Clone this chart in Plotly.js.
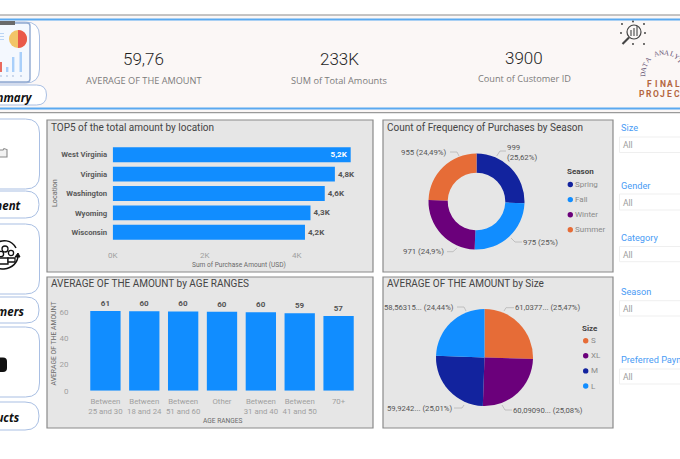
<!DOCTYPE html>
<html><head><meta charset="utf-8">
<script src="https://cdn.plot.ly/plotly-3.0.1.min.js"></script>
<style>html,body{margin:0;padding:0;background:#fff;overflow:hidden}#c{width:680px;height:459px}</style>
</head><body><div id="c"></div>
<script>
// ---- data ----
const locations = ["West Virginia","Virginia","Washington","Wyoming","Wisconsin"];
const locationAmounts = [5174,4830,4610,4300,4180];
const locationLabels = ["5,2K","4,8K","4,6K","4,3K","4,2K"];
const seasons = ["Spring","Fall","Winter","Summer"];
const seasonCounts = [999,975,971,955];
const ageRanges = ["Between<br>25 and 30","Between<br>18 and 24","Between<br>51 and 60","Other","Between<br>31 and 40","Between<br>41 and 50","70+"];
const ageAverages = [60.6,60.3,60.2,60.0,59.6,58.8,56.8];
const sizes = ["S","XL","M","L"];
const sizeAverages = [61.0377,60.0909,59.9242,58.5631];
const sizeLabels = ["61,0377... (25,47%)","60,09090... (25,08%)","59,9242... (25,01%)","58,56315... (24,44%)"];
const kpiValues = ["59,76","233K","3900"];
const kpiNames = ["AVERAGE OF THE AMOUNT","SUM of Total Amounts","Count of Customer ID"];
const slicers = ["Size","Gender","Category","Season","Preferred Payment"];
const navNames = ["Summary","Payment","Customers","Products"];

// ---- palette ----
const BLUE="#118DFF",NAVY="#12239E",PURPLE="#6B007B",ORANGE="#E66C37";
const seasonColors=[NAVY,BLUE,PURPLE,ORANGE];
const sizeColors=[ORANGE,PURPLE,NAVY,BLUE];
const W=680,H=459;
const fx=p=>p/W, fy=p=>1-p/H;
const FONT="Roboto, sans-serif", UI="'Open Sans', sans-serif";

const shapes=[],ann=[];
const rect=(x0,y0,x1,y1,fill,line,lw,layer)=>shapes.push({type:"rect",xref:"paper",yref:"paper",x0:fx(x0),x1:fx(x1),y0:fy(y0),y1:fy(y1),fillcolor:fill||"rgba(0,0,0,0)",line:{color:line||"rgba(0,0,0,0)",width:lw||0},layer:layer||"below"});
const circ=(cx,cy,r,fill,line,lw,layer)=>shapes.push({type:"circle",xref:"paper",yref:"paper",x0:fx(cx-r),x1:fx(cx+r),y0:fy(cy+r),y1:fy(cy-r),fillcolor:fill||"rgba(0,0,0,0)",line:{color:line||"rgba(0,0,0,0)",width:lw||0},layer:layer||"below"});
const path=(d,fill,line,lw,layer)=>{
  const s=d.replace(/(-?[\d.]+) (-?[\d.]+)/g,(m,a,b)=>fx(+a)+" "+fy(+b));
  shapes.push({type:"path",xref:"paper",yref:"paper",path:s,fillcolor:fill||"rgba(0,0,0,0)",line:{color:line||"rgba(0,0,0,0)",width:lw||0},layer:layer||"below"});
};
const poly=(pts,line,lw)=>path("M"+pts.map(p=>p.join(" ")).join(" L"),null,line,lw,"above");
const rr=(x0,y0,x1,y1,r)=>`M${x0+r} ${y0} L${x1-r} ${y0} Q${x1} ${y0} ${x1} ${y0+r} L${x1} ${y1-r} Q${x1} ${y1} ${x1-r} ${y1} L${x0+r} ${y1} Q${x0} ${y1} ${x0} ${y1-r} L${x0} ${y0+r} Q${x0} ${y0} ${x0+r} ${y0} Z`;
const txt=(x,y,t,size,color,anchor,o)=>ann.push(Object.assign({xref:"paper",yref:"paper",x:fx(x),y:fy(y),text:t,showarrow:false,xanchor:anchor||"left",yanchor:"middle",font:{family:FONT,size:size,color:color},borderpad:0,borderwidth:0},o||{}));

// header band
rect(-2,15,682,113,"#FBF7F6");
rect(-2,14.4,682,15.4,"#8c8c8c");
rect(-2,18.4,682,20.4,"#5AA9F0");
rect(-2,107.4,682,109.4,"#5AA9F0");
rect(-2,112,682,113.2,"#9a9a9a");
const kx=[143.5,339,524],ky=[59,59,58],kl=[80,80,78];
kpiValues.forEach((v,i)=>{txt(kx[i],ky[i],v,17,"#1f1f1f","center",{font:{family:FONT,size:17,color:"#1f1f1f",weight:300}});txt(kx[i],kl[i],kpiNames[i],9.2,"#7b7b7b","center",{font:{family:UI,size:9.2,color:"#7b7b7b"}});});

// nav cards
const NAVC="#A9BFE3";
[[22,83],[119,189],[224,294],[327,397]].forEach(c=>path(rr(-30,c[0],39.5,c[1],14),"#fff",NAVC,1));
[[85,105,46.5],[191,218,39],[297,323,39],[402,430,39]].forEach(c=>path(rr(-30,c[0],c[2],c[1],(c[1]-c[0])/2),"#fff",NAVC,1));
const navPos=[[33,97],[21,205],[25,311],[20,417]];
navNames.forEach((n,i)=>txt(navPos[i][0],navPos[i][1],"<b><i>"+n+"</i></b>",11.5,"#111","right",{font:{family:UI,size:11.5,color:"#111"}}));

// summary icon
path(rr(-12,23,30,82,3),"#F4F8FE","#8FA8D0",1.4);
rect(-4,21,15,25,"#6a6a6a");
circ(18,39,9,"#F2C568");
path("M18 30 C30 30 30 48 18 48 Z","#EA5A4A");
rect(0,62,2,72,"#EA6A5E");
rect(6,67,8.4,72,"#A9CFFA");rect(12,57,14.4,72,"#A9CFFA");rect(19.5,52,22,72,"#A9CFFA");
[1,7,13,21].forEach(x=>circ(x,76,.9,"#B9C9E3"));
[33,36,39].forEach(y=>rect(0,y,4,y+1,"#BBD5F5"));
// payment icon
path("M-2 150 L3 150 L4 148.6 L7 149.6 L7 157 L-2 157 Z","#f2f2f2","#8a8a8a",1.1);
// customers icon
path("M-6 245 C2 238 12 240 16 248 M18 255 C18 263 12 268 4 269 C-2 269 -6 267 -9 264","#fff".length?null:null,"#111",1.5);
path("M15 257 L18 253 L20 257 Z","#111","#111",1);
circ(5,249,3,"#fff","#111",1.3);circ(11,253,2.6,"#fff","#111",1.3);circ(1,254,2.6,"#fff","#111",1.3);
path("M-3 264 L-3 258 L8 258 L8 264 Z","#fff","#111",1.3);
path("M8 258 L15 258 L15 262 L8 262 Z","#fff","#111",1.3);
// products icon
path(rr(-6,357.5,7,372,4),"#111");

// panels
[[47,120,373,272],[383,120,613,272],[47,277,373,428],[383,277,613,428]].forEach(p=>rect(p[0],p[1],p[2],p[3],"#E6E6E6","#8A8A8A",1.2));
const titles=[[50.5,127,"TOP5 of the total amount by location"],[386.5,127,"Count of Frequency of Purchases by Season"],[50.5,283.5,"AVERAGE OF THE AMOUNT by AGE RANGES"],[386.5,283.5,"AVERAGE OF THE AMOUNT by Size"]];
titles.forEach(t=>txt(t[0],t[1],t[2],10,"#444","left"));

// axis titles
const AX="#6a6a6a";
txt(239,264.7,"Sum of Purchase Amount (USD)",6.6,AX,"center");
txt(54,193,"Location",7.2,AX,"center",{textangle:-90});
txt(222,421,"AGE RANGES",6.6,AX,"center");
txt(53.5,344,"AVERAGE OF THE AMOUNT",6.8,AX,"center",{textangle:-90});

// donut labels + leaders
const LBL="#555",LS=7.8;
txt(507,147,"999",LS,LBL);txt(507,157,"(25,62%)",LS,LBL);
txt(447,152,"955 (24,49%)",LS,LBL,"right");
txt(523,242,"975 (25%)",LS,LBL);
txt(444,251.7,"971 (24,9%)",LS,LBL,"right");
const LEAD="#b5b5b5";
poly([[496.7,156],[500,151],[506,151]],LEAD,.8);
poly([[450,152],[457,152],[459,156]],LEAD,.8);
poly([[511,238],[515,242],[522,242]],LEAD,.8);
poly([[447,251.7],[453,251.7],[457,248]],LEAD,.8);
// legend season
txt(566.7,171.7,"<b>Season</b>",8,"#444");
seasons.forEach((s,i)=>{const y=184.5+i*15.1;circ(570.3,y,2.7,seasonColors[i],null,0,"above");txt(575,y,s,8,"#8a8a8a");});

// pie labels + leaders
txt(515,307.7,sizeLabels[0],7.7,LBL);
txt(513,410,sizeLabels[1],7.7,LBL);
txt(452,408.7,sizeLabels[2],7.7,LBL,"right");
txt(454,307,sizeLabels[3],7.7,LBL,"right");
poly([[504,311],[506,307.7],[514,307.7]],LEAD,.8);
poly([[502,405],[505,410],[512,410]],LEAD,.8);
poly([[454,408],[462,408],[464,405]],LEAD,.8);
poly([[457,307],[464,307],[466,311]],LEAD,.8);
txt(582,328.7,"<b>Size</b>",8,"#444");
sizes.forEach((s,i)=>{const y=340.7+i*15.1;circ(585.7,y,2.7,sizeColors[i],null,0,"above");txt(591,y,s,8,"#8a8a8a");});

// slicers
const sl=[[128,137,152.5],[185.7,194,210],[237,246.5,261.7],[291.7,300.7,316],[359.5,369,384]];
slicers.forEach((s,i)=>{const c=sl[i];txt(621,c[0],s,9.2,"#4A9CF5");rect(619.5,c[1],690,c[2],"#fff","#EFEFEF",1);txt(623,(c[1]+c[2])/2+.5,"All",8.5,"#9c9c9c");});

// logo + search glyph
"DATA ANALYTICS".split("").forEach((ch,i)=>{const d=-92+i*14.2,a=d*Math.PI/180;txt(664+21*Math.sin(a),74-21*Math.cos(a),ch,7,"#5E4E70","center",{textangle:d,font:{family:"'Liberation Serif',serif",size:7,color:"#5E4E70"}});});
"FINAL".split("").forEach((ch,i)=>txt(649+i*7.1,84,"<b>"+ch+"</b>",8.5,"#B5673F","center"));
"PROJECT".split("").forEach((ch,i)=>txt(641.5+i*7.1,94,"<b>"+ch+"</b>",8.5,"#B5673F","center"));
circ(634,32,7,"rgba(0,0,0,0)","#444",1.2);
poly([[629,37.5],[622.5,44]],"#444",2.2);
[[622,24],[644,24],[633,21.5],[621,33],[645,33],[644,44],[633,44]].forEach(p=>circ(p[0],p[1],.9,"#333"));
[[631,36,30],[634,36,28],[637,36,26]].forEach(b=>poly([[b[0],b[1]],[b[0],b[2]]],"#555",1.2));

// ---- traces ----
const traces=[
 {type:"bar",orientation:"h",y:locations,x:locationAmounts,text:locationLabels,xaxis:"x",yaxis:"y",
  marker:{color:BLUE},width:.77,textposition:["inside","outside","outside","outside","outside"],insidetextanchor:"end",
  textfont:{family:FONT,size:8,color:["#fff","#555","#555","#555","#555"],weight:700},constraintext:"none",cliponaxis:false,hoverinfo:"skip"},
 {type:"pie",labels:seasons,values:seasonCounts,hole:.6,sort:false,direction:"clockwise",rotation:0,
  marker:{colors:seasonColors},textinfo:"none",showlegend:false,hoverinfo:"skip",
  domain:{x:[fx(476.5-48),fx(476.5+48)],y:[fy(201.5+48),fy(201.5-48)]}},
 {type:"bar",x:ageRanges,y:ageAverages,xaxis:"x2",yaxis:"y2",marker:{color:BLUE},width:.78,
  texttemplate:"%{y:.0f}",textposition:"outside",textfont:{family:FONT,size:8,color:"#555",weight:700},cliponaxis:false,hoverinfo:"skip"},
 {type:"pie",labels:sizes,values:sizeAverages,sort:false,direction:"clockwise",rotation:0,
  marker:{colors:sizeColors},textinfo:"none",showlegend:false,hoverinfo:"skip",
  domain:{x:[fx(484.5-48.5),fx(484.5+48.5)],y:[fy(357.5+48.5),fy(357.5-48.5)]}}
];
const layout={width:W,height:H,margin:{l:0,r:0,t:0,b:0},paper_bgcolor:"#fff",plot_bgcolor:"rgba(0,0,0,0)",showlegend:false,bargap:.23,
 shapes:shapes,annotations:ann,
 xaxis:{domain:[fx(112.7),fx(372)],range:[0,259.3/46*1000],tickmode:"array",tickvals:[0,2000,4000],ticktext:["0K","2K","4K"],anchor:"y",
   showgrid:false,zeroline:false,showline:false,ticks:"outside",ticklen:5,tickcolor:"rgba(0,0,0,0)",tickfont:{family:FONT,size:8,color:"#a0a0a0"},fixedrange:true},
 yaxis:{domain:[fy(242),fy(145)],autorange:"reversed",anchor:"x",showgrid:false,zeroline:false,showline:false,ticks:"outside",ticklen:3,tickcolor:"rgba(0,0,0,0)",
   tickfont:{family:FONT,size:7.7,color:"#5a5a5a",weight:700},fixedrange:true},
 xaxis2:{domain:[fx(86),fx(358)],anchor:"y2",showgrid:false,zeroline:false,showline:false,ticks:"outside",ticklen:3,tickcolor:"rgba(0,0,0,0)",tickangle:0,
   tickfont:{family:FONT,size:7.8,color:"#a0a0a0"},fixedrange:true},
 yaxis2:{domain:[fy(390.7),fy(300)],range:[0,90.7/1.3167],anchor:"x2",tickvals:[0,20,40,60],showgrid:false,zeroline:false,showline:false,ticks:"outside",ticklen:15,tickcolor:"rgba(0,0,0,0)",
   tickfont:{family:FONT,size:8,color:"#a0a0a0"},fixedrange:true}
};
Plotly.newPlot("c",traces,layout,{staticPlot:true,displayModeBar:false});
</script></body></html>
